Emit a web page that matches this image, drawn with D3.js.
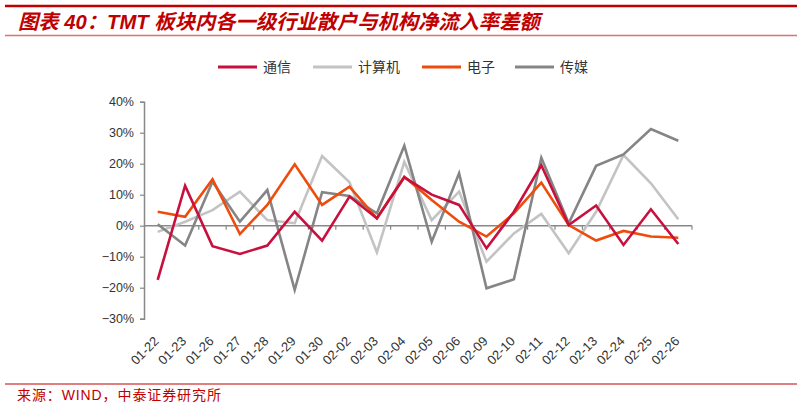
<!DOCTYPE html>
<html>
<head>
<meta charset="utf-8">
<script src="https://cdn.jsdelivr.net/npm/d3@7"></script>
<style>
  body { margin: 0; background: #fff; }
  #svg-container { width: 803px; height: 408px; }
  text { font-family: "Liberation Sans", Arial, "Noto Sans CJK SC", sans-serif; }
</style>
</head>
<body>
<div id="svg-container"></div>
<script>
// Data
const dates = ["01-22", "01-23", "01-26", "01-27", "01-28", "01-29", "01-30", "02-02", "02-03", "02-04",
  "02-05", "02-06", "02-09", "02-10", "02-11", "02-12", "02-13", "02-24", "02-25", "02-26"];
const seriesNames = ["通信", "计算机", "电子", "传媒"];
const tongxin = [-17.5, 12.9, -6.6, -9.1, -6.4, 4.5, -4.8, 9.4, 2.4, 15.6, 10.0, 6.7, -7.3, 4.5, 19.5, 0.2, 6.5, -6.2, 5.3, -5.9];
const jisuanji = [-2.0, 1.3, 5.0, 11.0, 1.8, 0.8, 22.5, 14.0, -8.6, 20.6, 1.8, 11.0, -11.6, -2.5, 3.8, -8.9, 4.5, 22.8, 13.7, 2.1];
const dianzi = [4.5, 2.9, 15.0, -2.7, 6.7, 19.8, 6.7, 12.6, 2.4, 15.8, 8.3, 1.3, -3.5, 4.0, 13.9, 0.2, -4.8, -1.7, -3.5, -3.9];
const chuanmei = [0.5, -6.4, 14.2, 1.3, 11.5, -20.7, 10.8, 9.6, 4.0, 25.8, -5.2, 16.9, -20.2, -17.3, 21.9, 0.8, 19.3, 23.0, 31.2, 27.4];
const yTicks = [-30, -20, -10, 0, 10, 20, 30, 40];

const colors = ["#C8103E", "#C3C3C3", "#EE4B0C", "#858585"];
const seriesValues = [tongxin, jisuanji, dianzi, chuanmei];
// draw order: light lines under darker ones
const drawOrder = [1, 3, 2, 0];

////////////////////////////////////////////////////////////////////
////////////////////////////  Init  ///////////////////////////////
const width = 803;
const height = 408;
const svg = d3.select("#svg-container").append("svg")
  .attr("width", width).attr("height", height);

const red = "#C00000";

// Header / footer rules
svg.append("line").attr("x1", 5).attr("x2", 797).attr("y1", 6).attr("y2", 6)
  .attr("stroke", red).attr("stroke-width", 2.5);
svg.append("line").attr("x1", 5).attr("x2", 797).attr("y1", 35.5).attr("y2", 35.5)
  .attr("stroke", "#E07070").attr("stroke-width", 1.5);
svg.append("line").attr("x1", 5).attr("x2", 797).attr("y1", 384).attr("y2", 384)
  .attr("stroke", red).attr("stroke-width", 1.2);

svg.append("text")
  .attr("x", 18).attr("y", 29)
  .attr("fill", red)
  .attr("font-size", 20.3)
  .attr("font-weight", "bold")
  .attr("font-style", "italic")
  .text("图表 40：TMT 板块内各一级行业散户与机构净流入率差额");

svg.append("text")
  .attr("x", 17).attr("y", 400)
  .attr("fill", red)
  .attr("font-size", 14)
  .attr("letter-spacing", 0.9)
  .text("来源：WIND，中泰证券研究所");

// Scales
const xScale = d3.scaleBand().domain(dates).range([144, 692]).paddingInner(0);
const yScale = d3.scaleLinear().domain([-30, 40]).range([318.7, 101.7]);
const cx = (d) => xScale(d) + xScale.bandwidth() / 2;

// Y axis
const yAxis = svg.append("g")
  .attr("transform", "translate(144,0)")
  .call(d3.axisLeft(yScale).tickValues(yTicks).tickSize(4).tickPadding(6)
    .tickFormat((d) => (d < 0 ? "−" + Math.abs(d) : d) + "%"));
yAxis.select(".domain").attr("stroke", "#888").attr("stroke-width", 1.5);
yAxis.selectAll(".tick line").attr("stroke", "#888").attr("stroke-width", 1.2);
yAxis.selectAll(".tick text").attr("font-size", 12.5).attr("fill", "#333")
  .attr("font-family", "Liberation Sans, Arial, sans-serif");

// Zero line with category ticks between dates
const y0 = yScale(0);
svg.append("line")
  .attr("x1", xScale.range()[0]).attr("x2", xScale.range()[1])
  .attr("y1", y0).attr("y2", y0)
  .attr("stroke", "#888").attr("stroke-width", 1.5);
svg.append("g").selectAll("line")
  .data(dates.slice(1).map((d) => xScale(d)).concat([xScale.range()[1]]))
  .join("line")
  .attr("x1", (d) => d).attr("x2", (d) => d)
  .attr("y1", y0).attr("y2", y0 + 4)
  .attr("stroke", "#888").attr("stroke-width", 1.2);

// X labels (rotated)
svg.append("g").selectAll("text")
  .data(dates)
  .join("text")
  .attr("transform", (d) => `translate(${cx(d) + 2},342) rotate(-45)`)
  .attr("text-anchor", "end")
  .attr("font-size", 13)
  .attr("fill", "#333")
  .text((d) => d);

// Lines
const lineGenerator = d3.line()
  .x((d, i) => cx(dates[i]))
  .y((d) => yScale(d));

drawOrder.forEach((k) => {
  svg.append("path")
    .datum(seriesValues[k])
    .attr("d", lineGenerator)
    .attr("fill", "none")
    .attr("stroke", colors[k])
    .attr("stroke-width", 2.6)
    .attr("stroke-linejoin", "miter");
});

// Legend
const legendX = [218, 313, 422, 515];
const legend = svg.append("g").selectAll("g")
  .data(seriesNames)
  .join("g")
  .attr("transform", (d, i) => `translate(${legendX[i]},67)`);
legend.append("line")
  .attr("x1", 0).attr("x2", 39)
  .attr("stroke", (d, i) => colors[i])
  .attr("stroke-width", 2.8);
legend.append("text")
  .attr("x", 45).attr("y", 5)
  .attr("font-size", 14)
  .attr("fill", "#333")
  .attr("font-family", "Noto Sans CJK SC, sans-serif")
  .text((d) => d);
</script>
</body>
</html>
